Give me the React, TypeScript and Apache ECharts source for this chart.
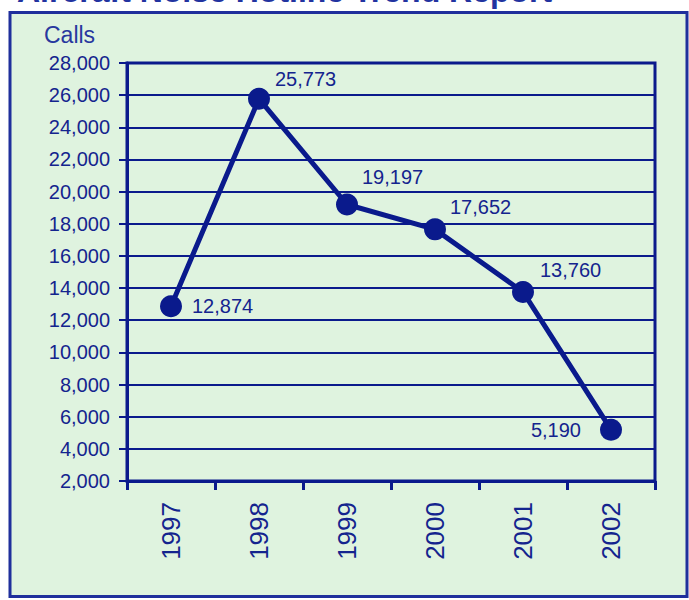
import React, { useEffect, useRef } from "react";
import * as echarts from "echarts";

const years = ["1997", "1998", "1999", "2000", "2001", "2002"];
const calls = [12874, 25773, 19197, 17652, 13760, 5190];
const labelPos = ["right", "right", "right", "right", "right", "left"];
const labelOffsetY = [0, -20, -28, -22, -22, 0];
const labelDist = [10, 5, 4, 4, 6, 19];

const NAVY = "#0a1a8c";
const TEXT = "#14248e";
const BG = "#dff3df";

export default function App() {
  const ref = useRef<HTMLDivElement>(null);
  useEffect(() => {
    const chart = echarts.init(ref.current!, null, { renderer: "svg" });
    chart.setOption({
      animation: false,
      backgroundColor: "#ffffff",
      textStyle: { fontFamily: "Arial, 'Liberation Sans', sans-serif" },
      graphic: [
        {
          type: "rect",
          shape: { x: 10, y: 12.5, width: 677, height: 584 },
          style: { fill: BG, stroke: "#1f2f9c", lineWidth: 3 },
          z: -10,
        },
        {
          type: "text",
          x: 17,
          y: 7,
          style: {
            text: "Aircraft Noise Hotline Trend Report",
            font: "bold 32px Arial, 'Liberation Sans', sans-serif",
            fill: "#2233a0",
            verticalAlign: "bottom",
            align: "left",
          },
        },
        {
          type: "text",
          x: 44,
          y: 35,
          style: {
            text: "Calls",
            font: "23px Arial, 'Liberation Sans', sans-serif",
            fill: "#28389e",
            verticalAlign: "middle",
            align: "left",
          },
        },
      ],
      grid: {
        left: 127,
        right: 34,
        top: 63,
        bottom: 119,
        show: true,
        borderColor: NAVY,
        borderWidth: 3,
        backgroundColor: "transparent",
      },
      xAxis: {
        type: "category",
        data: years,
        boundaryGap: true,
        axisLine: { lineStyle: { color: NAVY, width: 3 } },
        axisTick: { show: true, length: 9, interval: 0, lineStyle: { color: NAVY, width: 3 } },
        axisLabel: { rotate: 90, fontSize: 26, color: TEXT, margin: 21, interval: 0 },
      },
      yAxis: {
        type: "value",
        min: 2000,
        max: 28000,
        interval: 2000,
        axisLine: { show: true, lineStyle: { color: NAVY, width: 3 } },
        axisTick: { show: true, length: 8, lineStyle: { color: NAVY, width: 2 } },
        axisLabel: {
          fontSize: 20,
          color: TEXT,
          margin: 17,
          formatter: (v: number) => v.toLocaleString("en-US"),
        },
        splitLine: { lineStyle: { color: NAVY, width: 2 } },
      },
      series: [
        {
          type: "line",
          data: calls.map((v, i) => ({
            value: v,
            label: {
              position: labelPos[i],
              distance: labelDist[i],
              offset: [0, labelOffsetY[i]],
            },
          })),
          symbol: "circle",
          symbolSize: 22,
          lineStyle: { color: NAVY, width: 5 },
          itemStyle: { color: NAVY },
          label: {
            show: true,
            fontSize: 20,
            color: TEXT,
            formatter: (p: any) => (p.value as number).toLocaleString("en-US"),
          },
        },
      ],
    });
    return () => chart.dispose();
  }, []);
  return (
    <div
      ref={ref}
      style={{ position: "absolute", left: 0, top: 0, width: 689, height: 600 }}
    />
  );
}
